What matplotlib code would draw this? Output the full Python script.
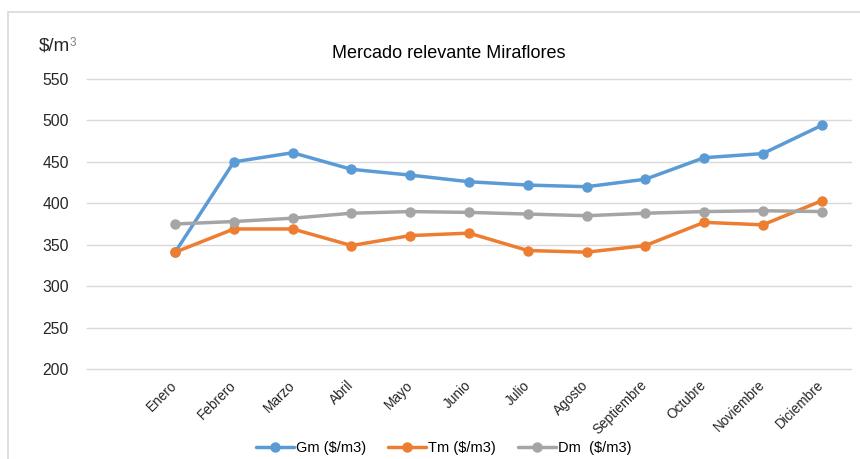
import matplotlib
matplotlib.use("Agg")
import matplotlib.pyplot as plt
from matplotlib.patches import Rectangle

plt.rcParams['font.family'] = ['Liberation Sans', 'DejaVu Sans']

months = ["Enero", "Febrero", "Marzo", "Abril", "Mayo", "Junio", "Julio",
          "Agosto", "Septiembre", "Octubre", "Noviembre", "Diciembre"]
gm = [341, 450, 461, 441, 434, 426, 422, 420, 429, 455, 460, 494]
tm = [341, 369, 369, 349, 361, 364, 343, 341, 349, 377, 374, 403]
dm = [375, 378, 382, 388, 390, 389, 387, 385, 388, 390, 391, 390]
series_labels = [r"Gm (\$/m3)", r"Tm (\$/m3)", r"Dm  (\$/m3)"]
colors = ["#5B9BD5", "#ED7D31", "#A5A5A5"]
yticks = [200, 250, 300, 350, 400, 450, 500, 550]

W, H = 860, 459
fig = plt.figure(figsize=(W / 100, H / 100), dpi=100)
fig.patches.append(Rectangle((8 / W, -0.1), 1.2, 1.1 - 12.5 / H, transform=fig.transFigure,
                             fill=False, edgecolor="#D9D9D9", linewidth=1.2))

ax = fig.add_axes([87 / W, 1 - 369 / H, (851 - 87) / W, 290 / H])
x = list(range(len(months)))
for vals, lab, c in zip([gm, tm, dm], series_labels, colors):
    ax.plot(x, vals, color=c, lw=2.5, marker="o", markersize=6.5, label=lab,
            solid_capstyle="round", zorder=3)

ax.set_ylim(200, 550)
ax.set_xlim(-1.5, 11.5)
ax.set_yticks(yticks)
ax.set_yticklabels([str(v) for v in yticks], fontsize=11.3, color="#262626")
ax.yaxis.grid(True, color="#D9D9D9", lw=1)
for gl in ax.get_ygridlines():
    gl.set_clip_on(False)
ax.set_axisbelow(True)
ax.set_xticks(x)
ax.set_xticklabels(months, rotation=45, ha="right", va="center",
                   rotation_mode="anchor", fontsize=9.8, color="#262626")
ax.tick_params(axis="both", length=0)
ax.tick_params(axis="y", pad=13)
ax.tick_params(axis="x", pad=10)
for s in ax.spines.values():
    s.set_visible(False)

fig.text(449 / W, 1 - 53 / H, "Mercado relevante Miraflores", ha="center",
         va="center", fontsize=13, color="#000000")
fig.text(39 / W, 1 - 46 / H, r"\$/m", ha="left", va="center", fontsize=13.5,
         color="#262626")
fig.text(69.5 / W, 1 - 43 / H, "3", ha="left", va="center", fontsize=8.5,
         color="#7F7F7F")

fig.legend(loc="center", bbox_to_anchor=(444 / W, 1 - 448 / H), ncol=3,
           frameon=False, fontsize=10.5, handlelength=2.6, columnspacing=1.5,
           handletextpad=0.15)

fig.savefig("out.png", dpi=100, facecolor="white")
